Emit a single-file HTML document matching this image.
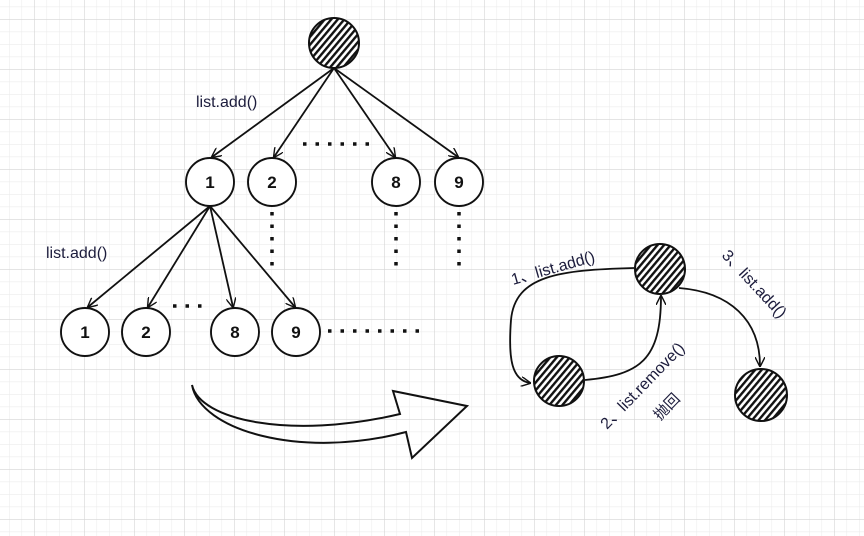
<!DOCTYPE html>
<html><head><meta charset="utf-8"><style>
html,body{margin:0;padding:0;background:#fff}
svg{display:block}
text{font-family:"Liberation Sans","Noto Sans CJK SC",sans-serif}
</style></head><body>
<svg width="864" height="536" viewBox="0 0 864 536" xmlns="http://www.w3.org/2000/svg">
<defs>
<pattern id="minor" x="9" y="-6" width="12.5" height="12.5" patternUnits="userSpaceOnUse">
<path d="M0 0V12.5M0 0H12.5" stroke="#ececec" stroke-width="1.2" fill="none"/>
</pattern>
<pattern id="major" x="34" y="19" width="50" height="50" patternUnits="userSpaceOnUse">
<path d="M0 0V50M0 0H50" stroke="#d6d6d6" stroke-width="1.2" fill="none"/>
</pattern>
<pattern id="hatch" width="5" height="5" patternUnits="userSpaceOnUse" patternTransform="rotate(-50)">
<rect width="5" height="5" fill="#fff"/>
<rect width="5" height="2.4" fill="#111"/>
</pattern>
<marker id="ar" viewBox="0 0 10 10" refX="9" refY="5" markerWidth="10" markerHeight="10" orient="auto-start-reverse" markerUnits="userSpaceOnUse">
<path d="M0 0L10 5L0 10" fill="none" stroke="#111" stroke-width="1.4"/>
</marker>
</defs>
<rect width="864" height="536" fill="url(#minor)"/>
<rect width="864" height="536" fill="url(#major)"/>

<g stroke="#111" stroke-width="1.8" fill="none">
<line x1="334" y1="68" x2="212" y2="157" marker-end="url(#ar)"/>
<line x1="334" y1="68" x2="274" y2="157" marker-end="url(#ar)"/>
<line x1="334" y1="68" x2="395" y2="157" marker-end="url(#ar)"/>
<line x1="334" y1="68" x2="458" y2="157" marker-end="url(#ar)"/>
<line x1="210" y1="206" x2="88" y2="307" marker-end="url(#ar)"/>
<line x1="210" y1="206" x2="148" y2="307" marker-end="url(#ar)"/>
<line x1="210" y1="206" x2="233" y2="307" marker-end="url(#ar)"/>
<line x1="210" y1="206" x2="295" y2="307" marker-end="url(#ar)"/>
<path d="M634 268 C560 270 515 275 511 320 C508 360 512 380 530 383" marker-end="url(#ar)"/>
<path d="M585 380 C640 375 661 360 661 296" marker-end="url(#ar)"/>
<path d="M679 288 C730 292 760 320 760 366" marker-end="url(#ar)"/>
<path d="M192 385 C200 420 290 440 400 414 L393 391 L467 406 L412 458 L406 432 C300 460 200 430 192 385 Z" stroke-width="2"/>
</g>

<g stroke="#111" stroke-width="3.5" stroke-dasharray="3.5 9" fill="none">
<line x1="303" y1="144" x2="370" y2="144"/>
<line x1="272" y1="212" x2="272" y2="272"/>
<line x1="396" y1="212" x2="396" y2="272"/>
<line x1="459" y1="212" x2="459" y2="272"/>
<line x1="173" y1="306" x2="210" y2="306"/>
<line x1="328" y1="331" x2="424" y2="331"/>
</g>

<g stroke="#111" stroke-width="2" fill="url(#hatch)">
<circle cx="334" cy="43" r="25"/>
<circle cx="660" cy="269" r="25"/>
<circle cx="559" cy="381" r="25"/>
<circle cx="761" cy="395" r="26"/>
</g>

<g stroke="#111" stroke-width="1.9" fill="#fff">
<circle cx="210" cy="182" r="24"/>
<circle cx="272" cy="182" r="24"/>
<circle cx="396" cy="182" r="24"/>
<circle cx="459" cy="182" r="24"/>
<circle cx="85" cy="332" r="24"/>
<circle cx="146" cy="332" r="24"/>
<circle cx="235" cy="332" r="24"/>
<circle cx="296" cy="332" r="24"/>
</g>
<g font-size="17" font-weight="bold" fill="#111" text-anchor="middle">
<text x="210" y="188">1</text>
<text x="272" y="188">2</text>
<text x="396" y="188">8</text>
<text x="459" y="188">9</text>
<text x="85" y="338">1</text>
<text x="146" y="338">2</text>
<text x="235" y="338">8</text>
<text x="296" y="338">9</text>
</g>

<g font-size="16" fill="#1c1c3c">
<text x="196" y="107">list.add()</text>
<text x="46" y="258">list.add()</text>
<text transform="translate(513 285) rotate(-16)">1、list.add()</text>
<text transform="translate(607 430) rotate(-46)">2、list.remove()</text>
<text transform="translate(660 421) rotate(-46)" font-size="15">抛回</text>
<text transform="translate(721 256) rotate(47)">3、list.add()</text>
</g>
</svg>
</body></html>
